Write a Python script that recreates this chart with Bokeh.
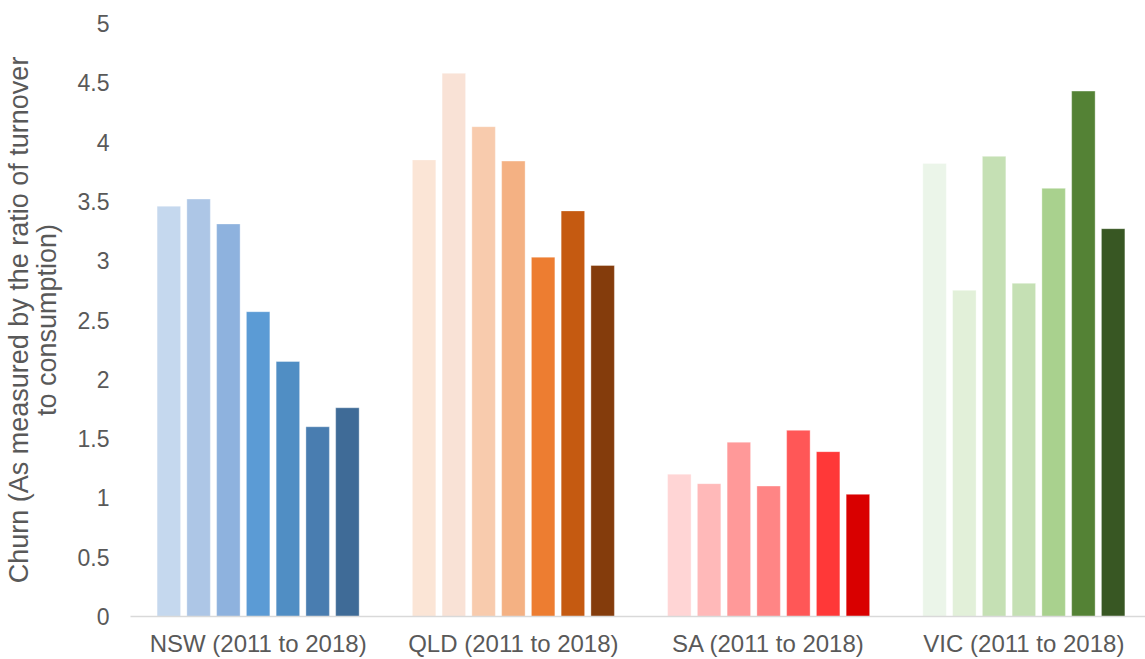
from bokeh.plotting import figure
from bokeh.models import ColumnDataSource, Range1d, FixedTicker
from bokeh.embed import file_html
from bokeh.resources import INLINE

# Churn by state, seven financial years per state (2011 to 2018)
regions = ["NSW (2011 to 2018)", "QLD (2011 to 2018)", "SA (2011 to 2018)", "VIC (2011 to 2018)"]
years = ["2011-12", "2012-13", "2013-14", "2014-15", "2015-16", "2016-17", "2017-18"]

nsw = [3.46, 3.52, 3.31, 2.57, 2.15, 1.60, 1.76]
qld = [3.85, 4.58, 4.13, 3.84, 3.03, 3.42, 2.96]
sa = [1.20, 1.12, 1.47, 1.10, 1.57, 1.39, 1.03]
vic = [3.82, 2.75, 3.88, 2.81, 3.61, 4.43, 3.27]

nsw_colors = ["#C5D8EE", "#ADC6E6", "#8EB2DE", "#5B9BD5", "#508EC4", "#497DB0", "#3F6B97"]
qld_colors = ["#FBE5D6", "#F9E2D6", "#F8CBAD", "#F4B183", "#ED7D31", "#C55A11", "#843C0C"]
sa_colors = ["#FFD5D5", "#FFB9B9", "#FF9999", "#FF8585", "#FF5757", "#FF3838", "#D90000"]
vic_colors = ["#EBF5E9", "#E2F0D9", "#C5E0B4", "#C5E0B4", "#A9D18E", "#548235", "#385723"]

y_ticks = [0, 0.5, 1, 1.5, 2, 2.5, 3, 3.5, 4, 4.5, 5]
y_title = ["Churn (As measured by the ratio of turnover", "to consumption)"]

series = [nsw, qld, sa, vic]
palettes = [nsw_colors, qld_colors, sa_colors, vic_colors]

# bar layout inside each category slot (category slot = 1 unit)
pitch = 0.1166
bar_w = 0.092

xs, tops, cols = [], [], []
for i, (vals, pal) in enumerate(zip(series, palettes)):
    for j, v in enumerate(vals):
        xs.append(i + 0.5 + (j - (len(vals) - 1) / 2) * pitch)
        tops.append(v)
        cols.append(pal[j])

src = ColumnDataSource(dict(x=xs, top=tops, color=cols))

W, H = 1145, 659
left, top_b, bottom_b = 129, 23, 41
frame_w = W - left
slot_px = 255.5

p = figure(width=W, height=H, output_backend="svg", toolbar_location=None,
           x_range=Range1d(0, frame_w / slot_px), y_range=Range1d(0, 5),
           min_border_left=left, min_border_right=0,
           min_border_top=top_b, min_border_bottom=bottom_b)

p.vbar(x="x", top="top", bottom=0, width=bar_w, fill_color="color",
       line_color="white", line_alpha=0.35, line_width=1, source=src)

font = "Liberation Sans"
grey = "#595959"

p.xaxis.ticker = FixedTicker(ticks=[i + 0.5 for i in range(len(regions))])
p.xaxis.major_label_overrides = {i + 0.5: r for i, r in enumerate(regions)}
p.xaxis.major_tick_line_color = None
p.xaxis.major_tick_out = 0
p.xaxis.major_tick_in = 0
p.xaxis.minor_tick_line_color = None
p.xaxis.minor_tick_out = 0
p.xaxis.axis_line_color = "#D9D9D9"
p.xaxis.axis_line_width = 1.5
p.xaxis.major_label_text_font = font
p.xaxis.major_label_text_font_size = "24px"
p.xaxis.major_label_text_color = grey
p.xaxis.major_label_standoff = 13

p.yaxis.ticker = FixedTicker(ticks=y_ticks)
p.yaxis.major_label_overrides = {t: ("%g" % t) for t in y_ticks}
p.yaxis.major_tick_line_color = None
p.yaxis.major_tick_out = 0
p.yaxis.major_tick_in = 0
p.yaxis.minor_tick_line_color = None
p.yaxis.minor_tick_out = 0
p.yaxis.axis_line_color = None
p.yaxis.major_label_text_font = font
p.yaxis.major_label_text_font_size = "23px"
p.yaxis.major_label_text_color = grey
p.yaxis.major_label_standoff = 21

# two-line vertical axis title, lines centred on each other
p.yaxis.axis_label = "\n".join(y_title)
p.yaxis.axis_label_text_font = font
p.yaxis.axis_label_text_font_size = "27px"
p.yaxis.axis_label_text_font_style = "normal"
p.yaxis.axis_label_text_color = grey
p.yaxis.axis_label_text_line_height = 0.93
p.yaxis.axis_label_standoff = 13

p.xgrid.grid_line_color = None
p.ygrid.grid_line_color = None
p.outline_line_color = None
p.background_fill_color = "white"
p.border_fill_color = "white"

open("out.html", "w").write(file_html(p, INLINE))
